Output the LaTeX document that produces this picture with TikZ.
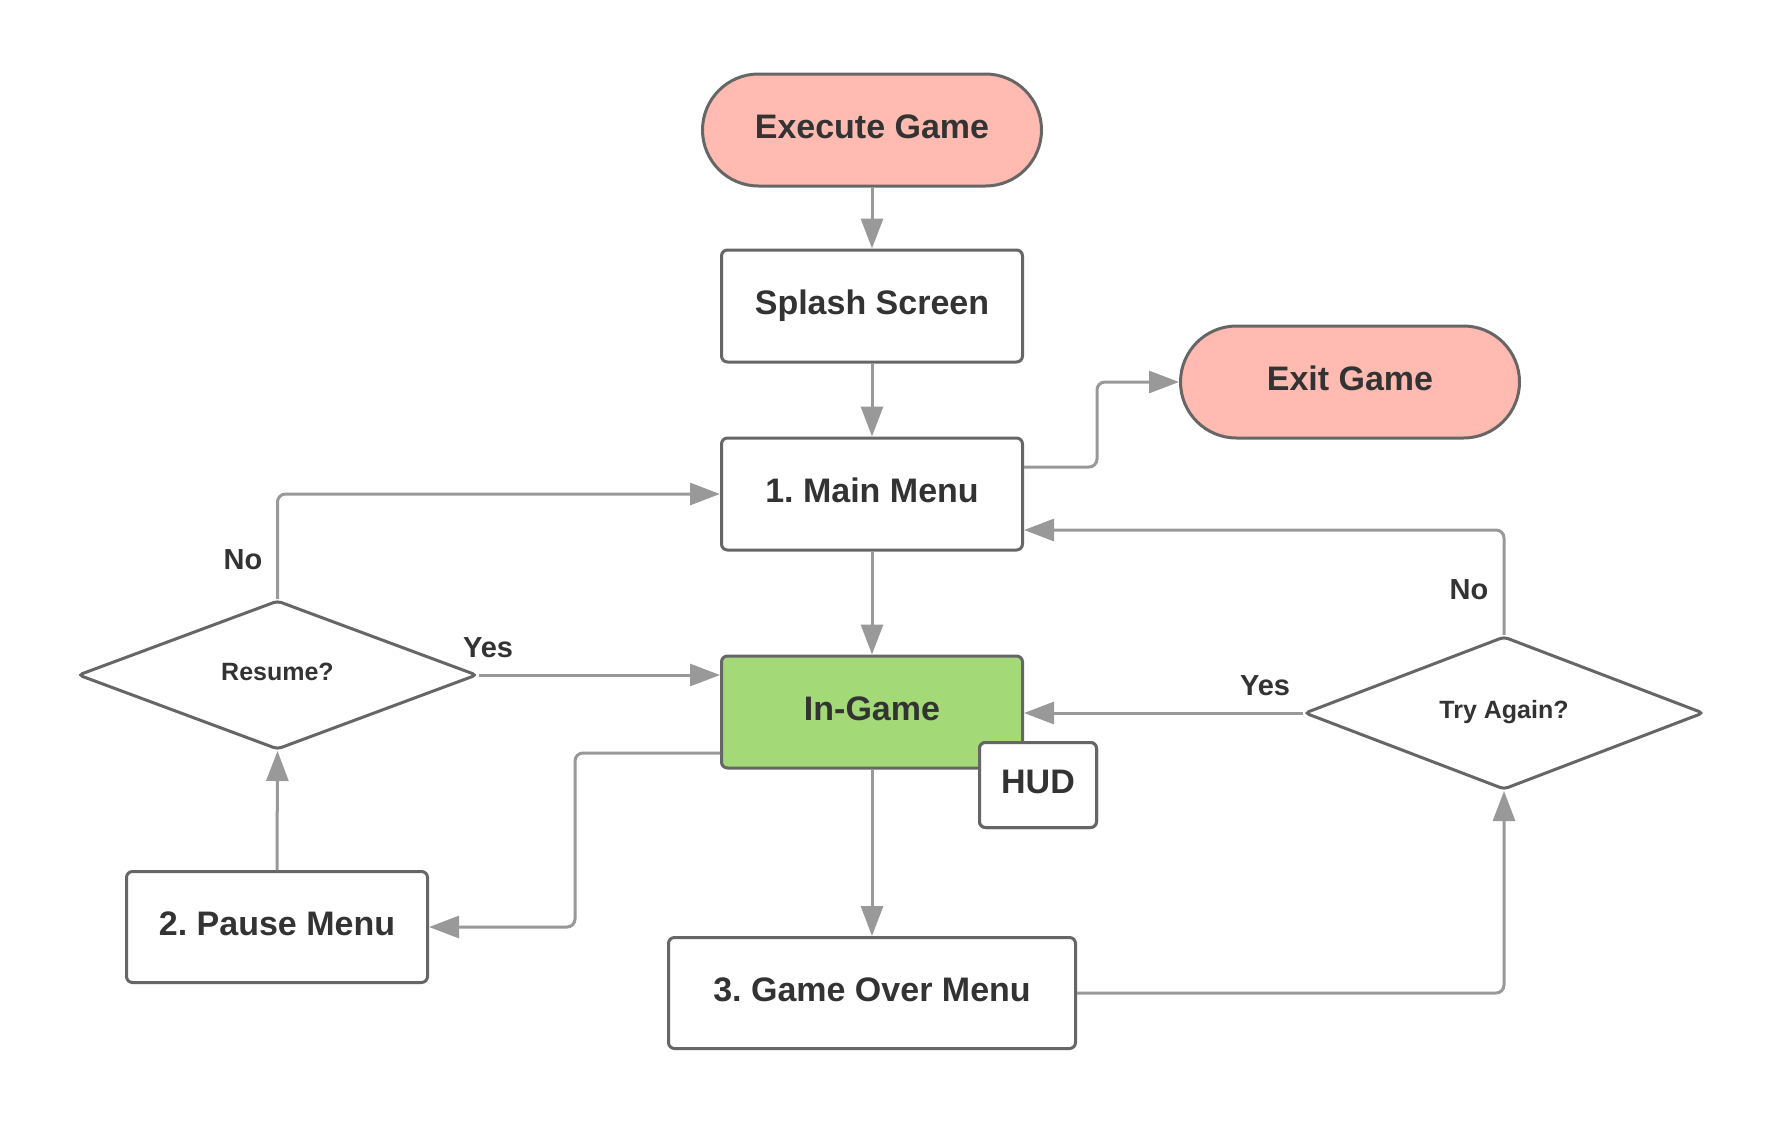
\documentclass[tikz,border=0pt]{standalone}
\usepackage{fontspec}
\setmainfont{Liberation Sans}
\usetikzlibrary{shapes.geometric,arrows.meta}
\definecolor{txt}{HTML}{333333}
\definecolor{bord}{HTML}{666666}
\definecolor{conn}{HTML}{999999}
\definecolor{pinkf}{HTML}{FFBBB1}
\definecolor{greenf}{HTML}{A3D977}
\tikzset{
  base/.style={draw=bord, line width=3pt, text=txt, font=\fontsize{34}{40}\selectfont\bfseries\frenchspacing,
    text height=24.3pt, text depth=7.5pt, inner sep=0pt},
  stadium/.style={base, fill=pinkf, rounded corners=56pt, minimum height=112pt},
  box/.style={base, fill=white, rounded corners=6pt, minimum height=112pt, minimum width=301pt},
  dec/.style={base, fill=white, diamond, rounded corners=4pt, minimum width=399pt, minimum height=149pt,
    font=\fontsize{25}{30}\selectfont\bfseries, text height=17.9pt, text depth=6pt},
  lbl/.style={text=txt, font=\fontsize{29}{34}\selectfont\bfseries, text height=20.8pt, text depth=0pt, inner sep=0pt},
  arr/.style={draw=conn, line width=3pt, rounded corners=8pt, -{Triangle[length=30pt,width=22pt]}},
}
\begin{document}
\begin{tikzpicture}[x=1pt,y=1pt]
\useasboundingbox[fill=white] (0,0) rectangle (1783,-1125);
\node[stadium, minimum width=339pt] (exec) at (872,-130) {Execute Game};
\node[box] (splash) at (872,-306) {Splash Screen};
\node[box] (main) at (872,-494) {1. Main Menu};
\node[stadium, minimum width=339pt] (exit) at (1350,-382) {Exit Game};
\node[box, fill=greenf] (ing) at (872,-712) {In-Game};
\node[box, minimum width=117pt, minimum height=85pt] (hud) at (1038,-785) {HUD};
\node[box, minimum width=407pt, minimum height=111pt] (go) at (872,-993) {3. Game Over Menu};
\node[box, minimum height=111pt] (pause) at (277,-927) {2. Pause Menu};
\node[dec] (res) at (277.5,-675) {Resume?};
\node[dec] (try) at (1504,-713) {Try Again?};
\node[lbl] (lno) at (243,-559) {No};
\node[lbl] (lyes) at (488,-647) {Yes};
\node[lbl] (rno) at (1469,-589) {No};
\node[lbl] (ryes) at (1265,-685) {Yes};
\coordinate (c1) at (575,-927);
\coordinate (c2) at (1097,-467);
\draw[arr] (exec) -- (splash);
\draw[arr] (splash) -- (main);
\draw[arr] (main) -- (ing);
\draw[arr] (ing) -- (go);
\draw[arr] ([yshift=27pt]main.east) -- (c2) |- (exit.west);
\draw[arr] (try.north) |- ([yshift=-36pt]main.east);
\draw[arr] (try.west) -- (try.west -| ing.east);
\draw[arr] (go.east) -| (try.south);
\draw[arr] ([yshift=-41pt]ing.west) -| (c1) -- (pause.east);
\draw[arr] (pause.north) -- (res.south);
\draw[arr] (res.north) |- (main.west);
\draw[arr] (res.east) -- (res.east -| ing.west);
\node[box, minimum width=117pt, minimum height=85pt] at (hud) {HUD};
\end{tikzpicture}
\end{document}
